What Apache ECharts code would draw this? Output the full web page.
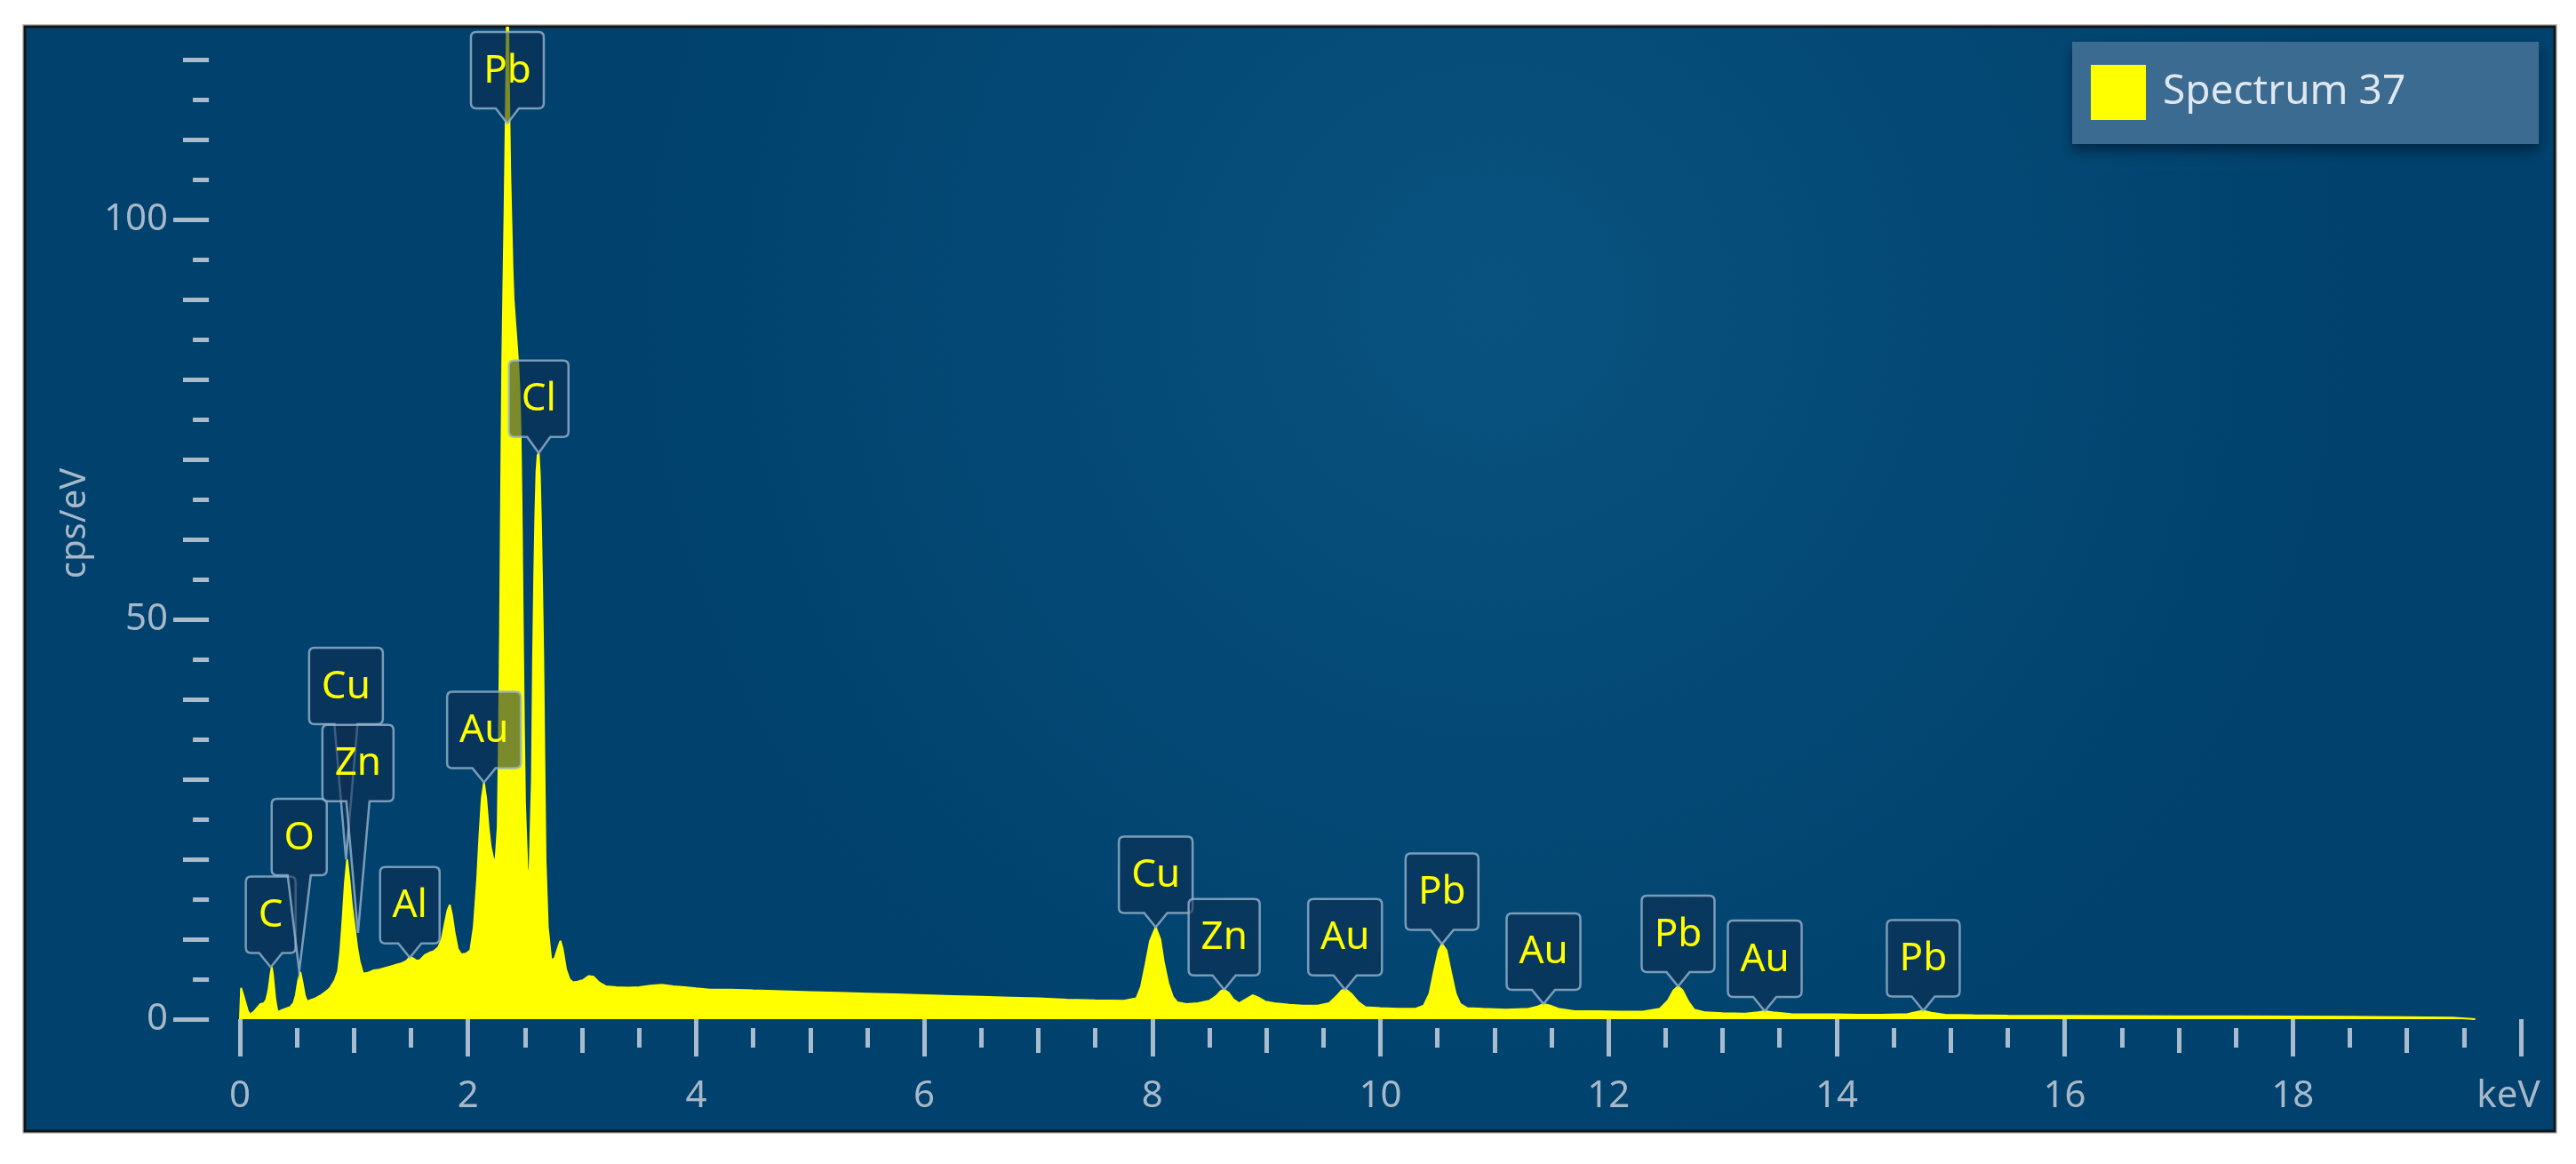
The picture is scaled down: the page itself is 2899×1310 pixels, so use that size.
<!DOCTYPE html>
<html lang="en">
<head>
<meta charset="UTF-8">
<title>Spectrum 37</title>
<style>
    html, body { margin: 0; padding: 0; background: #ffffff; }
    #container { width: 2899px; height: 1310px; }
</style>
</head>
<body>
<div id="container"></div>
<script src="https://cdn.jsdelivr.net/npm/echarts@6/dist/echarts.min.js"></script>
<script type="text/javascript">
    // spectrum: energy (keV) and counts (cps/eV)
    var energyKeV = [
        0.00, 0.01, 0.03, 0.05, 0.07, 0.09, 0.12, 0.15, 0.18, 0.21, 0.23, 0.25, 0.27, 0.28, 0.29, 0.31, 0.33, 0.36, 0.40, 0.44,
        0.47, 0.49, 0.51, 0.53, 0.55, 0.57, 0.59, 0.62, 0.66, 0.71, 0.75, 0.79, 0.83, 0.86, 0.88, 0.90, 0.92, 0.94, 0.96, 0.98,
        1.01, 1.03, 1.05, 1.08, 1.12, 1.17, 1.22, 1.27, 1.32, 1.37, 1.42, 1.46, 1.49, 1.52, 1.55, 1.58, 1.62, 1.66, 1.70, 1.74,
        1.77, 1.80, 1.82, 1.84, 1.86, 1.88, 1.91, 1.94, 1.98, 2.02, 2.05, 2.08, 2.10, 2.12, 2.14, 2.16, 2.18, 2.20, 2.22, 2.24,
        2.26, 2.27, 2.28, 2.29, 2.30, 2.31, 2.32, 2.33, 2.34, 2.345, 2.35, 2.36, 2.37, 2.38, 2.39, 2.40, 2.42, 2.44, 2.45, 2.46,
        2.47, 2.48, 2.49, 2.50, 2.52, 2.53, 2.54, 2.56, 2.57, 2.58, 2.59, 2.60, 2.61, 2.62, 2.63, 2.64, 2.65, 2.66, 2.67, 2.68,
        2.70, 2.73, 2.76, 2.79, 2.81, 2.83, 2.86, 2.89, 2.92, 2.96, 3.01, 3.06, 3.10, 3.15, 3.21, 3.30, 3.40, 3.50, 3.60, 3.70,
        3.80, 3.90, 4.00, 4.12, 4.30, 4.50, 4.75, 5.00, 5.25, 5.50, 5.75, 6.00, 6.25, 6.50, 6.75, 7.00, 7.25, 7.50, 7.75, 7.86,
        7.90, 7.94, 7.98, 8.03, 8.07, 8.10, 8.14, 8.18, 8.22, 8.30, 8.40, 8.50, 8.56, 8.60, 8.63, 8.67, 8.71, 8.76, 8.82, 8.88,
        8.93, 8.99, 9.07, 9.20, 9.32, 9.45, 9.55, 9.61, 9.66, 9.70, 9.75, 9.81, 9.87, 10.00, 10.15, 10.31, 10.38, 10.43, 10.47, 10.51,
        10.54, 10.58, 10.62, 10.66, 10.70, 10.76, 10.90, 11.10, 11.30, 11.38, 11.43, 11.49, 11.56, 11.70, 11.90, 12.10, 12.30, 12.45, 12.52, 12.57,
        12.61, 12.65, 12.70, 12.75, 12.85, 13.00, 13.20, 13.31, 13.37, 13.44, 13.60, 13.80, 14.00, 14.19, 14.40, 14.62, 14.70, 14.76, 14.83, 14.95,
        15.20, 15.50, 16.00, 16.50, 17.00, 17.50, 18.00, 18.50, 19.00, 19.40, 19.60
    ];
    var countsCps = [
        0, 3.9, 3.0, 2.0, 1.0, 0.6, 0.9, 1.4, 1.9, 2.0, 2.4, 3.6, 5.8, 6.5, 5.5, 2.5, 0.9, 1.1, 1.3, 1.5,
        2.0, 3.0, 4.8, 5.9, 4.5, 2.9, 2.2, 2.4, 2.6, 3.0, 3.4, 3.9, 4.8, 6.0, 8.5, 12.5, 17, 20, 17.5, 14.5,
        11.1, 8.8, 7.2, 5.7, 5.8, 6.1, 6.2, 6.4, 6.6, 6.8, 7.0, 7.3, 7.8, 7.6, 7.3, 7.4, 8.0, 8.3, 8.5, 9.0,
        10.0, 12.2, 13.6, 14.3, 13.0, 11.0, 8.8, 8.1, 8.2, 8.6, 11.5, 17.5, 23, 27.5, 29.6, 27.5, 24, 21.5, 20.2, 19.6,
        24, 34, 48, 66, 82, 92, 101, 112, 124, 128, 127, 116, 106, 100, 94, 90, 86, 82, 79, 74,
        64, 50, 37, 27, 19, 17, 19, 30, 45, 55, 63, 68.5, 70.5, 70.8, 68, 62, 54, 45, 32, 20,
        11.5, 7.4, 7.6, 9.0, 9.8, 8.8, 6.2, 5.0, 4.6, 4.7, 4.9, 5.4, 5.3, 4.6, 4.1, 4.0, 3.95, 4.0, 4.2, 4.3,
        4.1, 4.0, 3.85, 3.7, 3.7, 3.6, 3.5, 3.4, 3.3, 3.2, 3.1, 3.0, 2.9, 2.8, 2.7, 2.6, 2.45, 2.35, 2.3, 2.6,
        4.0, 6.8, 9.8, 11.5, 10.0, 7.2, 4.5, 2.8, 2.1, 1.9, 2.0, 2.3, 2.9, 3.5, 3.7, 3.3, 2.5, 2.0, 2.5, 3.0,
        2.7, 2.2, 2.0, 1.8, 1.7, 1.7, 2.0, 2.8, 3.6, 3.7, 3.1, 2.1, 1.5, 1.4, 1.3, 1.3, 1.7, 3.2, 6.0, 8.6,
        9.4, 8.6, 5.8, 3.2, 1.9, 1.4, 1.3, 1.2, 1.3, 1.6, 1.9, 1.7, 1.3, 1.0, 1.0, 0.95, 0.95, 1.3, 2.3, 3.6,
        4.1, 3.6, 2.2, 1.2, 0.85, 0.75, 0.7, 0.85, 1.0, 0.85, 0.65, 0.6, 0.6, 0.55, 0.55, 0.65, 0.9, 1.05, 0.8, 0.55,
        0.5, 0.45, 0.42, 0.4, 0.37, 0.35, 0.32, 0.3, 0.25, 0.2, 0
    ];

    // element markers: name, line energy (keV), height of the tip (cps/eV)
    var markerNames = ['C', 'O', 'Cu', 'Zn', 'Al', 'Au', 'Pb', 'Cl', 'Cu', 'Zn', 'Au', 'Pb', 'Au', 'Pb', 'Au', 'Pb'];
    var markerKeV = [0.27, 0.52, 0.93, 1.035, 1.49, 2.14, 2.345, 2.62, 8.03, 8.63, 9.69, 10.54, 11.43, 12.61, 13.37, 14.76];
    var markerCps = [6.5, 6.0, 20, 10.8, 7.7, 29.6, 112, 70.8, 11.5, 3.7, 3.7, 9.4, 1.9, 4.1, 1.0, 1.05];

    // tick labels
    var yLabelValues = [0, 50, 100];
    var xUnitLabel = 'keV';
    var seriesName = 'Spectrum 37';

    // layout: pixel gap between tip and box bottom (long stalks for the crowded low-energy labels)
    var markerLift = [16, 108, 152, 148, 16, 16, 17, 18, 16, 16, 16, 16, 16, 16, 16, 16];

    var FONT = '"Noto Sans", "Open Sans", sans-serif';
    var LABEL_FONT = '44px ' + FONT;
    var axisColor = '#a9bbcc';
    var textColor = '#a7b8c9';
    var Y_MAX = 124;

    var measureCtx = document.createElement('canvas').getContext('2d');
    measureCtx.font = LABEL_FONT;

    function stepValues(step, max) {
        var out = [];
        for (var v = 0; v <= max; v += step) out.push(v);
        return out;
    }

    function renderMarker(params, api) {
        var i = params.dataIndex;
        var tip = api.coord([api.value(0), api.value(1)]);
        var name = markerNames[i];
        var w = Math.round(measureCtx.measureText(name).width) + 28;
        var h = 86, r = 6, bw = 13;
        var bottom = tip[1] - markerLift[i];
        var top = bottom - h;
        var l = tip[0] - w / 2, rt = tip[0] + w / 2;
        var d = ['M', l + r, top, 'L', rt - r, top, 'Q', rt, top, rt, top + r,
            'L', rt, bottom - r, 'Q', rt, bottom, rt - r, bottom,
            'L', tip[0] + bw, bottom, 'L', tip[0], tip[1], 'L', tip[0] - bw, bottom,
            'L', l + r, bottom, 'Q', l, bottom, l, bottom - r,
            'L', l, top + r, 'Q', l, top, l + r, top, 'Z'].join(' ');
        return {
            type: 'group',
            children: [
                {
                    type: 'path',
                    shape: { pathData: d },
                    style: { fill: 'rgba(14,44,78,0.55)', stroke: 'rgba(150,180,206,0.8)', lineWidth: 2.5 }
                },
                {
                    type: 'text',
                    x: tip[0],
                    y: top + h / 2 + 1,
                    style: { text: name, align: 'center', verticalAlign: 'middle', fill: '#ffff00', font: LABEL_FONT }
                }
            ]
        };
    }

    function xAxisLayer(interval, tickLen, showLabel) {
        return {
            type: 'value', gridIndex: 0, min: 0, max: 20, interval: interval, position: 'bottom', offset: 10,
            axisLine: { show: false },
            splitLine: { show: false },
            axisTick: { length: tickLen, lineStyle: { color: axisColor, width: 5 } },
            axisLabel: {
                show: showLabel, margin: 56, color: textColor, fontSize: 42, fontFamily: FONT,
                formatter: function (v) { return v === 20 ? '{u|' + xUnitLabel + '}' : String(v); },
                rich: { u: { color: textColor, fontSize: 42, fontFamily: FONT, padding: [0, 28, 0, 0] } }
            }
        };
    }

    // tick-only y axes live in a second grid whose left edge is the tick column
    function yAxisLayer(ticks, tickLen, showLabel) {
        var axis = {
            type: 'value', gridIndex: 1, min: 0, max: Y_MAX, position: 'left',
            axisLine: { show: false },
            splitLine: { show: false },
            axisTick: { customValues: ticks, length: tickLen, lineStyle: { color: axisColor, width: 5 } },
            axisLabel: { show: showLabel, customValues: yLabelValues, margin: 46, color: textColor, fontSize: 42, fontFamily: FONT }
        };
        if (showLabel) {
            axis.name = 'cps/eV';
            axis.nameLocation = 'middle';
            axis.nameRotate = 90;
            axis.nameGap = 130;
            axis.nameTextStyle = { color: textColor, fontSize: 40, fontFamily: FONT };
        }
        return axis;
    }

    var chart = echarts.init(document.getElementById('container'));
    var option = {
        animation: false,
        backgroundColor: '#ffffff',
        graphic: [
            {
                type: 'rect', z: -20, silent: true,
                shape: { x: 26, y: 28, width: 2851, height: 1247 },
                style: { fill: 'none', stroke: '#c8c8c8', lineWidth: 2 }
            },
            {
                type: 'rect', z: -10, silent: true,
                shape: { x: 28, y: 30, width: 2847, height: 1243 },
                style: {
                    fill: new echarts.graphic.RadialGradient(0.58, 0.25, 0.8, [
                        { offset: 0, color: '#09527f' },
                        { offset: 1, color: '#00416d' }
                    ]),
                    stroke: '#141414', lineWidth: 3
                }
            }
        ],
        grid: [
            { left: 270, right: 62, top: 31, bottom: 163 },
            { left: 235, right: 62, top: 31, bottom: 163 }
        ],
        legend: {
            data: [seriesName],
            left: 2332, top: 47,
            icon: 'rect', itemWidth: 62, itemHeight: 62,
            padding: [26, 150, 27, 21],
            backgroundColor: '#3c6b91',
            shadowColor: 'rgba(0,20,40,0.6)', shadowBlur: 14, shadowOffsetY: 8,
            itemStyle: { color: '#ffff00' },
            textStyle: { color: '#dfe7ef', fontSize: 46, fontFamily: FONT, padding: [0, 0, 0, 14] }
        },
        xAxis: [
            xAxisLayer(2, 42, true), xAxisLayer(1, 28, false), xAxisLayer(0.5, 22, false),
            { type: 'value', gridIndex: 1, min: 0, max: 20, show: false }
        ],
        yAxis: [
            { type: 'value', gridIndex: 0, min: 0, max: Y_MAX, show: false },
            yAxisLayer(yLabelValues, 40, true), yAxisLayer(stepValues(10, 120), 29, false), yAxisLayer(stepValues(5, 120), 18, false)
        ],
        series: [
            {
                name: seriesName,
                type: 'line',
                xAxisIndex: 0, yAxisIndex: 0,
                data: energyKeV.map(function (e, i) { return [e, countsCps[i]]; }),
                showSymbol: false,
                symbol: 'none',
                sampling: 'none',
                clip: true,
                itemStyle: { color: '#ffff00' },
                lineStyle: { color: '#ffff00', width: 2 },
                areaStyle: { color: '#ffff00', opacity: 1 },
                z: 2
            },
            {
                name: 'markers',
                type: 'custom',
                xAxisIndex: 0, yAxisIndex: 0,
                renderItem: renderMarker,
                data: markerKeV.map(function (k, i) { return [k, markerCps[i]]; }),
                z: 5
            }
        ]
    };
    chart.setOption(option);
</script>
</body>
</html>
